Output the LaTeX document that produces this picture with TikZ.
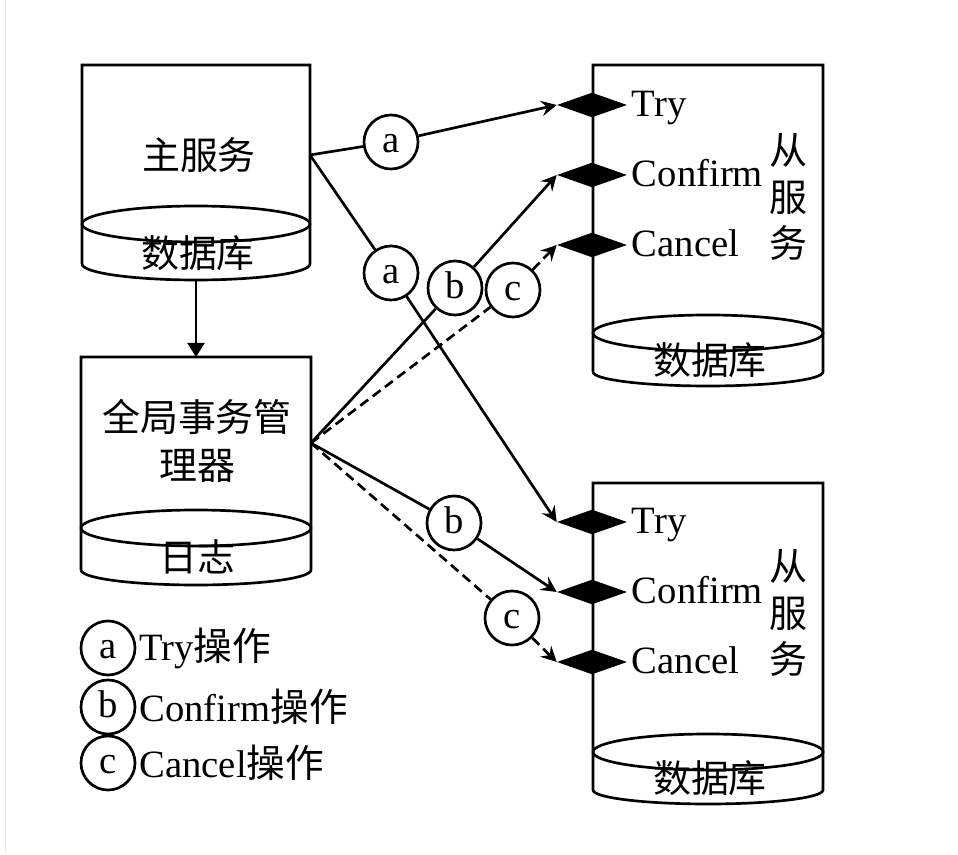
\documentclass[tikz,border=0pt]{standalone}
\usepackage{fontspec}
\setmainfont{Liberation Serif}
\newfontfamily\cjk{Noto Sans CJK SC}
\usepackage{tikz}
\usetikzlibrary{arrows.meta,positioning,shapes.geometric}
\tikzset{
  cyl/.style={line width=1.9pt},
  call/.style={line width=1.9pt},
  req/.style={call,-{Stealth[length=11pt,width=11pt,inset=4pt]}},
  tag/.style={circle,draw,line width=1.9pt,fill=white,minimum size=1.35cm,inner sep=0pt,
    text height=14.4pt,text depth=0pt},
  port/.style={diamond,fill=black,minimum width=1.75cm,minimum height=0.62cm,inner sep=0pt},
  zh/.style={font=\fontsize{27}{34}\selectfont\cjk}
}

\begin{document}
\begin{tikzpicture}[font=\fontsize{27.5}{34}\selectfont,x=0.025cm,y=0.025cm]
    \useasboundingbox (0,0) rectangle (958,854);
    \draw[black!8] (5,0) -- (5,854);

    % main service
    \draw[cyl] (82,590) -- (82,789) -- (310,789) -- (310,590)
      arc[start angle=0,end angle=-180,x radius=114,y radius=16];
    \draw[cyl] (196,630) ellipse[x radius=114,y radius=18];
    \node[zh] (main) at (199,699) {主服务};
    \node[zh] (maindb) at (198,601) {数据库};
    \coordinate (mainout) at (310,699);
    \coordinate (mainbot) at (196,574);

    % global transaction manager
    \draw[cyl] (81,284) -- (81,497) -- (311,497) -- (311,284)
      arc[start angle=0,end angle=-180,x radius=115,y radius=15];
    \draw[cyl] (196,326) ellipse[x radius=115,y radius=18];
    \node[zh,align=center] (gtm) at (197,413) {全局事务管\\理器};
    \node[zh] (gtmlog) at (197,297) {日志};
    \coordinate (gtmtop) at (196,497);
    \coordinate (gtmout) at (311,411);
    \draw[call,-{Triangle[length=10pt,width=12pt]}] (mainbot) -- (gtmtop);

    % upper slave service
    \draw[cyl] (593,482) -- (593,789) -- (823,789) -- (823,482)
      arc[start angle=0,end angle=-180,x radius=115,y radius=14];
    \draw[cyl] (708,521) ellipse[x radius=115,y radius=18];
    \node[zh] (dbA) at (710,494) {数据库};
    \node[zh,align=center,font=\fontsize{27}{33}\selectfont\cjk] (svcA) at (788,657) {从\\服\\务};
    \node[port] (tryA) at (592,749) {};
    \node[port] (cfmA) at (592,679) {};
    \node[port] (cclA) at (592,609) {};
    \node[anchor=base west] (tryAl) at (627,737) {Try};
    \node[anchor=base west] (cfmAl) at (627,667) {Confirm};
    \node[anchor=base west] (cclAl) at (627,597) {Cancel};

    % lower slave service
    \draw[cyl] (593,64) -- (593,371) -- (823,371) -- (823,64)
      arc[start angle=0,end angle=-180,x radius=115,y radius=14];
    \draw[cyl] (708,102) ellipse[x radius=115,y radius=18];
    \node[zh] (dbB) at (710,76) {数据库};
    \node[zh,align=center,font=\fontsize{27}{33}\selectfont\cjk] (svcB) at (788,241) {从\\服\\务};
    \node[port] (tryB) at (592,332) {};
    \node[port] (cfmB) at (592,262) {};
    \node[port] (cclB) at (592,192) {};
    \node[anchor=base west] (tryBl) at (627,320) {Try};
    \node[anchor=base west] (cfmBl) at (627,250) {Confirm};
    \node[anchor=base west] (cclBl) at (627,180) {Cancel};

    % operation tags
    \node[tag] (a1) at (391,712) {a};
    \node[tag] (a2) at (391,581) {a};
    \node[tag] (b1) at (455,566) {b};
    \node[tag] (c1) at (513,564) {c};
    \node[tag] (b2) at (454,331) {b};
    \node[tag] (c2) at (512,236) {c};

    \draw[call] (mainout) -- (a1);
    \draw[req] (a1) -- (tryA.west);
    \draw[call] (mainout) -- (a2);
    \draw[req] (a2) -- (tryB.west);
    \draw[call] (gtmout) -- (b1);
    \draw[req] (b1) -- (cfmA.west);
    \draw[call,dash pattern=on 7pt off 4pt] (gtmout) -- (c1);
    \draw[req,dash pattern=on 7pt off 4pt] (c1) -- (cclA.west);
    \draw[call] (gtmout) -- (b2);
    \draw[req] (b2) -- (cfmB.west);
    \draw[call,dash pattern=on 7pt off 4pt] (gtmout) -- (c2);
    \draw[req,dash pattern=on 7pt off 4pt] (c2) -- (cclB.west);

    % legend
    \node[tag] (la) at (108,206) {a};
    \node[tag] (lb) at (108,147) {b};
    \node[tag] (lc) at (108,91) {c};
    \node[right=0pt of la,inner sep=2pt] (lat) {Try{\cjk 操作}};
    \node[right=0pt of lb,inner sep=2pt] (lbt) {Confirm{\cjk 操作}};
    \node[right=0pt of lc,inner sep=2pt] (lct) {Cancel{\cjk 操作}};
  \end{tikzpicture}
\end{document}
